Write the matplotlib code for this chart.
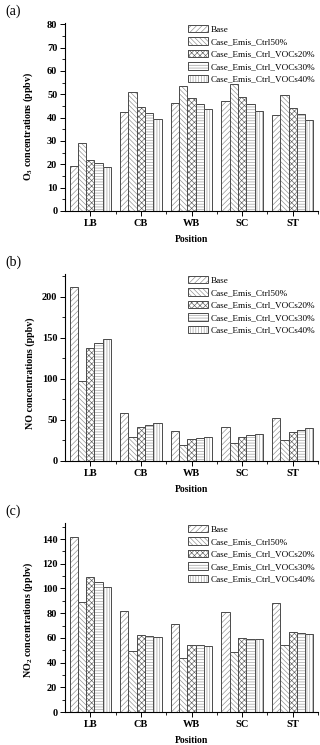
import numpy as np
import matplotlib
matplotlib.use('Agg')
from matplotlib import pyplot as plt
from matplotlib.ticker import MultipleLocator

# 站点与情景
positions = ['LB', 'CB', 'WB', 'SC', 'ST']
cases = ['Base', 'Case_Emis_Ctrl50%', 'Case_Emis_Ctrl_VOCs20%',
         'Case_Emis_Ctrl_VOCs30%', 'Case_Emis_Ctrl_VOCs40%']

# O3 浓度 (ppbv)
o3_base = [19.3, 42.5, 46.3, 47.3, 41.0]
o3_ctrl50 = [29.2, 50.8, 53.5, 54.5, 49.5]
o3_voc20 = [21.8, 44.5, 48.5, 49.0, 44.0]
o3_voc30 = [20.4, 42.0, 46.0, 46.0, 41.5]
o3_voc40 = [18.7, 39.5, 43.5, 43.0, 38.8]

# NO 浓度 (ppbv)
no_base = [211.8, 58.0, 37.0, 41.0, 52.5]
no_ctrl50 = [97.6, 29.7, 19.5, 21.5, 26.0]
no_voc20 = [137.8, 42.0, 27.0, 29.5, 35.5]
no_voc30 = [143.5, 44.0, 28.0, 31.5, 38.0]
no_voc40 = [148.8, 46.0, 29.5, 33.0, 40.0]

# NO2 浓度 (ppbv)
no2_base = [142.0, 81.5, 71.0, 81.0, 88.5]
no2_ctrl50 = [89.0, 49.5, 43.5, 48.5, 54.0]
no2_voc20 = [109.0, 62.0, 54.0, 60.0, 64.5]
no2_voc30 = [105.5, 61.5, 54.0, 59.5, 64.0]
no2_voc40 = [101.5, 60.5, 53.5, 59.0, 63.0]

hatches = ['//////', '\\\\\\\\\\\\\\', 'xxxxxx', '------', '||||||']
hatch_cols = ['#8c8c8c', '#8c8c8c', '#5e5e5e', '#999999', '#999999']

plt.rcParams['font.family'] = ['Liberation Serif', 'DejaVu Serif']
plt.rcParams['hatch.linewidth'] = 0.45
plt.rcParams['mathtext.fontset'] = 'custom'
plt.rcParams['mathtext.bf'] = 'Liberation Serif:bold'
plt.rcParams['mathtext.rm'] = 'Liberation Serif'

W, H = 320, 745
fig = plt.figure(figsize=(W / 100, H / 100), dpi=100)


def px_axes(left, top, right, bottom):
    return fig.add_axes([left / W, 1 - bottom / H, (right - left) / W, (bottom - top) / H])


panels = [
    ('(a)', [o3_base, o3_ctrl50, o3_voc20, o3_voc30, o3_voc40],
     r'$\mathbf{O_3}$ concentrations (ppbv)', 80.5, 10, 5, (23, 211), 0.45),
    ('(b)', [no_base, no_ctrl50, no_voc20, no_voc30, no_voc40],
     'NO concentrations (ppbv)', 228, 50, 25, (274, 461), 0.47),
    ('(c)', [no2_base, no2_ctrl50, no2_voc20, no2_voc30, no2_voc40],
     r'$\mathbf{NO_2}$ concentrations (ppbv)', 153, 20, 10, (523, 712), 0.49),
]

x = np.arange(len(positions))
bw = 0.164

for tag, series, ylab, ymax, major, minor, (top, bottom), ylab_y in panels:
    ax = px_axes(65, top, 318, bottom)
    handles = []
    for i, vals in enumerate(series):
        xs = x + (i - 2) * bw
        b1 = ax.bar(xs, vals, bw, facecolor='white', edgecolor=hatch_cols[i],
                    hatch=hatches[i], linewidth=0)
        b2 = ax.bar(xs, vals, bw, facecolor='none', edgecolor='#4a4a4a', linewidth=0.7)
        handles.append((b1[0], b2[0]))
    ax.set_xlim(-0.5, 4.5)
    ax.set_ylim(0, ymax)
    ax.yaxis.set_major_locator(MultipleLocator(major))
    ax.yaxis.set_minor_locator(MultipleLocator(minor))
    ax.set_xticks(x)
    ax.set_xticks(x + 0.5, minor=True)
    ax.set_xticklabels(positions, fontweight='bold', fontsize=7.5)
    for lab in ax.get_yticklabels():
        lab.set_fontweight('bold')
        lab.set_fontsize(7.5)
    ax.tick_params(axis='both', which='major', length=3.5, width=0.7, pad=2)
    ax.tick_params(axis='both', which='minor', length=2, width=0.6)
    ax.spines['top'].set_visible(False)
    ax.spines['right'].set_visible(False)
    ax.spines['left'].set_linewidth(0.8)
    ax.spines['bottom'].set_linewidth(0.8)
    ax.set_ylabel(ylab, fontweight='bold', fontsize=7.2)
    ax.yaxis.set_label_coords(-0.119, ylab_y)
    ax.set_xlabel('Position', fontweight='bold', fontsize=7, labelpad=5)
    ax.legend(handles, cases, loc='upper right', bbox_to_anchor=(1.01, 1.02),
              frameon=False, fontsize=6.6, handlelength=2.1, handleheight=0.9,
              handletextpad=0.3, labelspacing=0.38, borderaxespad=0.2)
    fig.text(5 / W, 1 - (top - 12) / H, tag, fontsize=10, va='center', ha='left')

fig.savefig('out.png', dpi=100)
